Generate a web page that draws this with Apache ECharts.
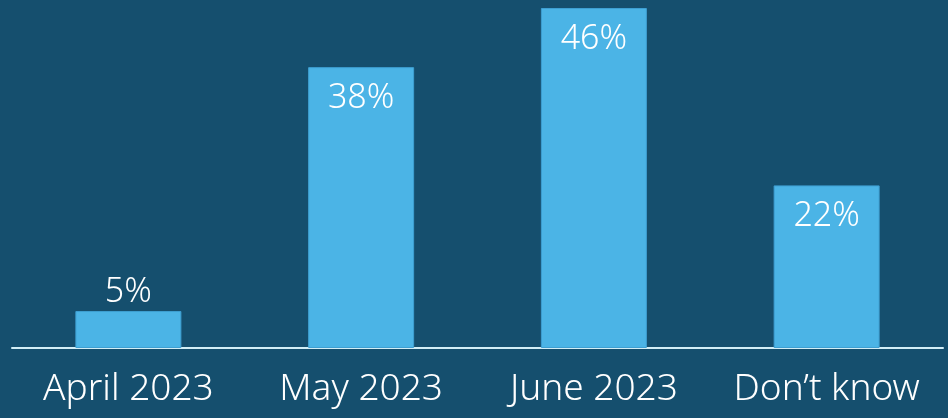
<!DOCTYPE html>
<html><head><meta charset="utf-8">
<script src="https://cdn.jsdelivr.net/npm/echarts@6/dist/echarts.min.js"></script>
<style>html,body{margin:0;padding:0;background:#154F6E;}#c{width:948px;height:418px;}</style>
</head><body><div id="c"></div>
<script>
const categories = ['April 2023', 'May 2023', 'June 2023', 'Don\u2019t know'];
const values = [5, 38, 46, 22];

const chart = echarts.init(document.getElementById('c'), null, {renderer: 'canvas'});
const data = values.map((v, i) => i === 0 ? {value: v, label: {position: 'top', distance: 2}} : v);
chart.setOption({
  backgroundColor: '#154F6E',
  animation: false,
  grid: {left: 12, right: 5, top: 8, bottom: 70, containLabel: false},
  xAxis: {
    type: 'category', data: categories,
    axisLine: {show: true, lineStyle: {color: '#D2EEF6', width: 2}},
    axisTick: {show: false},
    axisLabel: {color: '#FFFFFF', fontSize: 37, fontWeight: 300, fontFamily: 'Noto Sans', margin: 23,
      interval: 0, hideOverlap: false}
  },
  yAxis: {type: 'value', min: 0, max: 46, show: false, splitLine: {show: false}},
  series: [{
    type: 'bar', data: data, barWidth: 106,
    itemStyle: {color: '#4BB4E6', borderColor: '#3E9FD2', borderWidth: 1},
    label: {
      show: true, formatter: '{c}%', color: '#FFFFFF', fontSize: 34, fontWeight: 300, fontFamily: 'Noto Sans',
      position: 'insideTop', distance: 14
    }
  }]
});
</script></body></html>
